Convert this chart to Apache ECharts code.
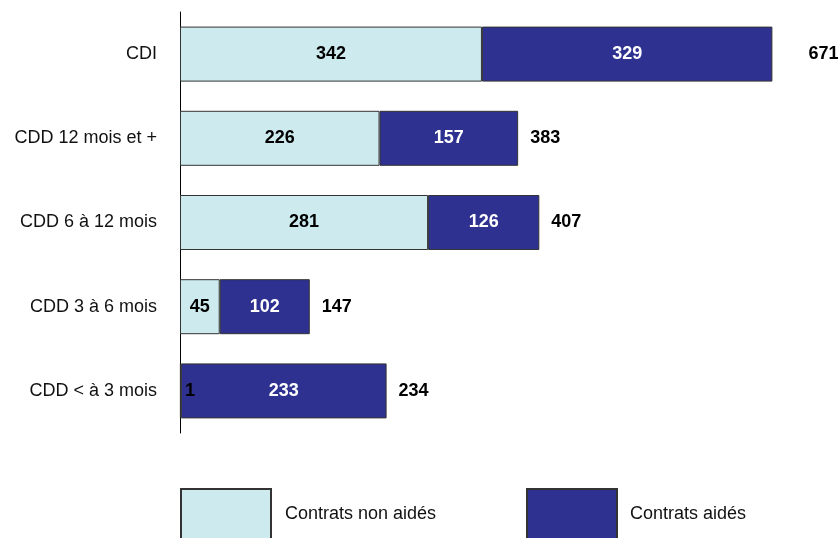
<!DOCTYPE html>
<html>
<head>
<meta charset="utf-8">
<title>Contrats</title>
<script src="https://cdn.jsdelivr.net/npm/echarts@6/dist/echarts.min.js"></script>
<style>
  html, body { margin: 0; padding: 0; background: #fff; }
  #chart { width: 839px; height: 538px; }
</style>
</head>
<body>
<div id="chart"></div>
<script>
// Contract types, top to bottom
const categories = ['CDI', 'CDD 12 mois et +', 'CDD 6 à 12 mois', 'CDD 3 à 6 mois', 'CDD < à 3 mois'];
// Number of contracts by type
const nonAides = [342, 226, 281, 45, 1];
const aides = [329, 157, 126, 102, 233];
const totals = [671, 383, 407, 147, 234];

const seriesNames = ['Contrats non aidés', 'Contrats aidés'];
const colLight = '#cdebef';
const colDark = '#2e3190';
const font = 'Liberation Sans, Arial, sans-serif';

const chart = echarts.init(document.getElementById('chart'), null, { renderer: 'canvas' });

const legendBase = {
  top: 488,
  padding: 0,
  icon: 'rect',
  itemWidth: 90, itemHeight: 50,
  selectedMode: false
};

chart.setOption({
  animation: false,
  backgroundColor: '#ffffff',
  textStyle: { fontFamily: font },
  grid: { left: 180, top: 12, width: 618, height: 421, containLabel: false },
  xAxis: {
    type: 'value', min: 0, max: 700, show: false
  },
  yAxis: {
    type: 'category',
    data: categories,
    inverse: true,
    axisTick: { show: false },
    axisLine: { show: true, lineStyle: { color: '#000', width: 1 } },
    axisLabel: { color: '#111', fontSize: 18, fontFamily: font, margin: 23 }
  },
  legend: [
    Object.assign({}, legendBase, {
      data: [seriesNames[0]],
      left: 180,
      textStyle: { color: '#111', fontSize: 18, fontFamily: font, padding: [0, 0, 0, 9] }
    }),
    Object.assign({}, legendBase, {
      data: [seriesNames[1]],
      left: 526,
      textStyle: { color: '#111', fontSize: 18, fontFamily: font, padding: [0, 0, 0, 8] }
    })
  ],
  series: [
    {
      name: seriesNames[0],
      type: 'bar',
      stack: 'contrats',
      barWidth: 55,
      data: nonAides.map(function (v) {
        // a tiny segment keeps its value at the start of the bar
        return v < 10
          ? { value: v, label: { position: 'insideLeft', distance: 5 } }
          : v;
      }),
      itemStyle: { color: colLight, borderColor: '#333', borderWidth: 1 },
      label: {
        show: true, position: 'inside',
        color: '#000', fontSize: 18, fontWeight: 'bold', fontFamily: font
      }
    },
    {
      name: seriesNames[1],
      type: 'bar',
      stack: 'contrats',
      barWidth: 55,
      data: aides,
      itemStyle: { color: colDark, borderColor: '#333', borderWidth: 1 },
      label: {
        show: true, position: 'inside',
        color: '#fff', fontSize: 18, fontWeight: 'bold', fontFamily: font
      }
    },
    {
      // invisible overlay carrying the total of each row
      name: 'Total',
      type: 'bar',
      barWidth: 55,
      barGap: '-100%',
      silent: true,
      data: totals.map(function (v, i) {
        return i === 0 ? { value: v, label: { distance: 36 } } : v;
      }),
      itemStyle: { color: 'rgba(0,0,0,0)' },
      label: {
        show: true, position: 'right', distance: 12,
        color: '#000', fontSize: 18, fontWeight: 'bold', fontFamily: font
      }
    }
  ]
});
</script>
</body>
</html>
